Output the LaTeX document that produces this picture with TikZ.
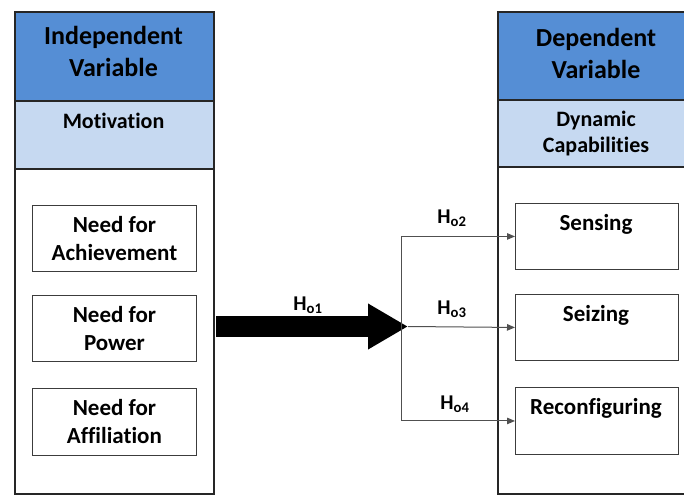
\documentclass[tikz,border=0pt]{standalone}
\usepackage{fontspec}
\setmainfont{Carlito}[Ligatures={NoCommon}]
\usetikzlibrary{arrows.meta,calc}
\definecolor{hdrblue}{RGB}{85,142,213}
\definecolor{subblue}{RGB}{198,217,241}
\definecolor{boxgray}{RGB}{60,60,60}
\definecolor{linegray}{RGB}{80,80,80}
\tikzset{
  panel/.style={draw=black!85, line width=1.6pt, inner sep=0pt, anchor=north west},
  hdr/.style={panel, fill=hdrblue},
  hdrtext/.style={font=\bfseries\fontsize{26}{32}\selectfont, align=center, inner sep=0pt},
  sub/.style={panel, fill=subblue},
  subtext/.style={font=\bfseries\fontsize{22}{26}\selectfont, align=center, inner sep=0pt},
  itembox/.style={draw=boxgray, line width=0.9pt, inner sep=0pt, anchor=north west, align=center,
    font=\bfseries\fontsize{23}{28}\selectfont},
  itemtext/.style={font=\bfseries\fontsize{23}{28}\selectfont, inner sep=0pt},
  hlab/.style={font=\bfseries\fontsize{21}{24}\selectfont, inner sep=0pt},
  conn/.style={draw=linegray, line width=1pt, -{Triangle[length=8pt,width=6.5pt]}},
}
\newcommand{\Hsub}[1]{H\textsubscript{o#1}}
\begin{document}
\begin{tikzpicture}[x=1pt,y=1pt]
\clip (0,0) rectangle (684,-495);
\fill[white] (0,0) rectangle (684,-495);
% left panel
\node[panel, minimum width=199pt, minimum height=482pt] (L) at (14,-11) {};
\node[hdr, minimum width=199pt, minimum height=89pt] (Lh) at (14,-11) {};
\node[hdrtext] (Lht) at (113.5,-51) {Independent\\Variable};
\node[sub, minimum width=199pt, minimum height=68pt] (Ls) at (14,-100) {};
\node[subtext] (Lst) at (113.5,-121) {Motivation};
% right panel
\node[panel, minimum width=199pt, minimum height=482pt] (R) at (497,-11) {};
\node[hdr, minimum width=199pt, minimum height=88pt] (Rh) at (497,-11) {};
\node[hdrtext] (Rht) at (596,-53) {Dependent\\Variable};
\node[sub, minimum width=199pt, minimum height=67pt] (Rs) at (497,-99) {};
\node[subtext] (Rst) at (596,-134) {Dynamic\\Capabilities};
% left items
\node[itembox, minimum width=164pt, minimum height=66pt] (A) at (32,-205) {Need for\\Achievement};
\node[itembox, minimum width=164pt, minimum height=66pt] (P) at (32,-295) {Need for\\Power};
\node[itembox, minimum width=164pt, minimum height=67pt] (F) at (32,-388) {Need for\\Affiliation};
% right items
\node[itembox, minimum width=163pt, minimum height=66pt] (S) at (515,-203) {};
\node[itemtext] (St) at (596,-224) {Sensing};
\node[itembox, minimum width=163pt, minimum height=66pt] (Z) at (515,-294) {};
\node[itemtext] (Zt) at (596,-315) {Seizing};
\node[itembox, minimum width=163pt, minimum height=67pt] (C) at (515,-387) {};
\node[itemtext] (Ct) at (596,-408) {Reconfiguring};
% big arrow
\coordinate (a0) at (216,-326.5);
\coordinate (bp) at (408,-326.5);
\draw[line width=21pt, -{Triangle[length=40pt,width=43pt]}] (a0) -- (bp);
\node[hlab] (h1) at (308,-305) {\Hsub{1}};
% branches
\draw[conn] ($(bp)+(-7,0)$) |- (S.west);
\draw[conn] (bp) -- (Z.west);
\draw[conn] ($(bp)+(-7,0)$) |- (C.west);
\node[hlab] (h2) at (452,-218) {\Hsub{2}};
\node[hlab] (h3) at (452,-309) {\Hsub{3}};
\node[hlab] (h4) at (455,-404) {\Hsub{4}};
\end{tikzpicture}
\end{document}
